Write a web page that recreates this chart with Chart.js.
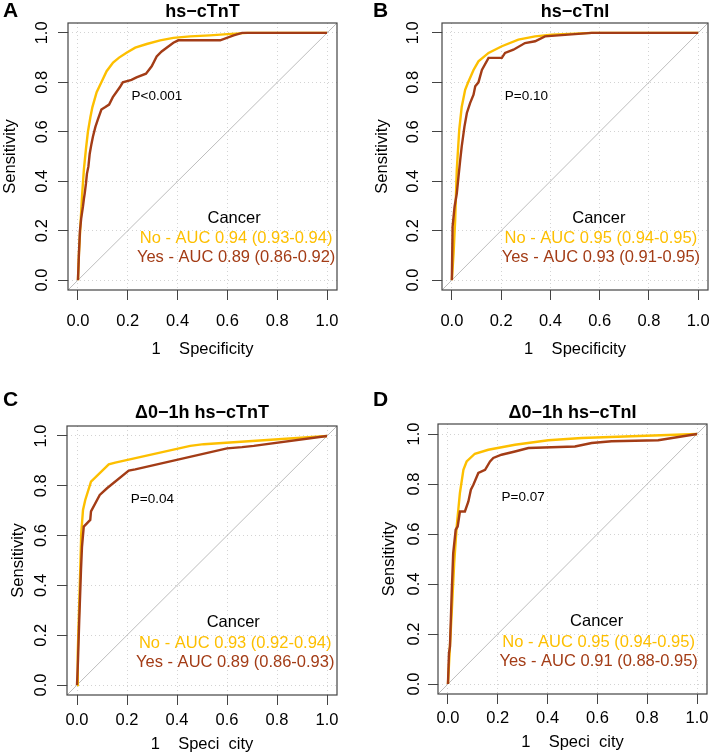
<!DOCTYPE html>
<html>
<head>
<meta charset="utf-8">
<script src="https://cdn.jsdelivr.net/npm/chart.js@4.4.0/dist/chart.umd.min.js"></script>
<style>
  html, body { margin: 0; padding: 0; background: #fff; }
  body { width: 711px; height: 755px; position: relative; overflow: hidden; }
  canvas { position: absolute; }
</style>
</head>
<body>
<canvas id="panelA" width="355" height="378" style="left:0px;top:0px;width:355px;height:378px"></canvas>
<canvas id="panelB" width="356" height="378" style="left:355px;top:0px;width:356px;height:378px"></canvas>
<canvas id="panelC" width="355" height="377" style="left:0px;top:378px;width:355px;height:377px"></canvas>
<canvas id="panelD" width="356" height="377" style="left:355px;top:378px;width:356px;height:377px"></canvas>
<script>
// Ticks shared by both axes
const tickVals = [0, 0.2, 0.4, 0.6, 0.8, 1.0];

// Panel texts
const panelLetters = ['A', 'B', 'C', 'D'];
const panelTitles = ['hs\u2212cTnT', 'hs\u2212cTnI', '\u03940\u22121h hs\u2212cTnT', '\u03940\u22121h hs\u2212cTnI'];
const pLabels = ['P<0.001', 'P=0.10', 'P=0.04', 'P=0.07'];
const noLabels = ['No - AUC 0.94 (0.93-0.94)', 'No - AUC 0.95 (0.94-0.95)', 'No - AUC 0.93 (0.92-0.94)', 'No - AUC 0.95 (0.94-0.95)'];
const yesLabels = ['Yes - AUC 0.89 (0.86-0.92)', 'Yes - AUC 0.93 (0.91-0.95)', 'Yes - AUC 0.89 (0.86-0.93)', 'Yes - AUC 0.91 (0.88-0.95)'];
const xTitles = ['1    Specificity', '1    Specificity', '1    Speci  city', '1    Speci  city'];

// A: hs-cTnT  (x = 1 - specificity, y = sensitivity)
const aNoFpr = [0, 0.004, 0.011, 0.017, 0.024, 0.032, 0.04, 0.05, 0.058, 0.075, 0.094, 0.115, 0.141, 0.165, 0.195, 0.23, 0.276, 0.33, 0.383, 0.45, 0.53, 0.6, 0.68, 1];
const aNoTpr = [0, 0.11, 0.24, 0.35, 0.45, 0.53, 0.6, 0.66, 0.70, 0.76, 0.80, 0.845, 0.88, 0.90, 0.92, 0.94, 0.955, 0.97, 0.98, 0.986, 0.99, 0.995, 1, 1];
const aYesFpr = [0, 0.004, 0.008, 0.013, 0.02, 0.024, 0.027, 0.032, 0.036, 0.042, 0.047, 0.054, 0.06, 0.07, 0.08, 0.094, 0.11, 0.125, 0.14, 0.168, 0.18, 0.215, 0.235, 0.273, 0.296, 0.316, 0.336, 0.356, 0.383, 0.403, 0.571, 0.625, 0.659, 1];
const aYesTpr = [0, 0.11, 0.2, 0.25, 0.297, 0.33, 0.35, 0.39, 0.43, 0.46, 0.51, 0.55, 0.58, 0.62, 0.65, 0.69, 0.70, 0.71, 0.74, 0.78, 0.80, 0.81, 0.82, 0.835, 0.865, 0.905, 0.925, 0.94, 0.96, 0.97, 0.97, 0.99, 1, 1];

// B: hs-cTnI
const bNoFpr = [0, 0.007, 0.0135, 0.02, 0.03, 0.04, 0.054, 0.065, 0.088, 0.108, 0.149, 0.203, 0.27, 0.338, 0.405, 0.568, 1];
const bNoTpr = [0, 0.108, 0.243, 0.446, 0.608, 0.70, 0.77, 0.797, 0.85, 0.885, 0.919, 0.946, 0.973, 0.986, 0.993, 1, 1];
const bYesFpr = [0, 0.003, 0.011, 0.02, 0.027, 0.034, 0.04, 0.051, 0.061, 0.074, 0.088, 0.095, 0.108, 0.122, 0.149, 0.203, 0.216, 0.25, 0.297, 0.338, 0.378, 0.432, 0.568, 1];
const bYesTpr = [0, 0.216, 0.297, 0.35, 0.419, 0.486, 0.54, 0.62, 0.676, 0.716, 0.75, 0.784, 0.80, 0.85, 0.899, 0.899, 0.919, 0.932, 0.959, 0.966, 0.986, 0.99, 1, 1];

// C: delta 0-1h hs-cTnT
const cNoFpr = [0, 0.003, 0.007, 0.013, 0.017, 0.024, 0.033, 0.056, 0.127, 0.153, 0.453, 0.507, 1];
const cNoTpr = [0, 0.128, 0.262, 0.463, 0.61, 0.703, 0.743, 0.817, 0.886, 0.893, 0.96, 0.967, 1];
const cYesFpr = [0, 0.004, 0.009, 0.016, 0.02, 0.027, 0.053, 0.056, 0.091, 0.12, 0.207, 0.233, 0.6, 0.66, 0.707, 1];
const cYesTpr = [0, 0.10, 0.262, 0.463, 0.556, 0.636, 0.663, 0.697, 0.763, 0.79, 0.861, 0.866, 0.95, 0.955, 0.96, 1];

// D: delta 0-1h hs-cTnI
const dNoFpr = [0, 0.008, 0.017, 0.025, 0.035, 0.048, 0.062, 0.075, 0.108, 0.162, 0.269, 0.403, 0.537, 0.738, 1];
const dNoTpr = [0, 0.15, 0.323, 0.483, 0.63, 0.764, 0.857, 0.89, 0.921, 0.937, 0.957, 0.975, 0.984, 0.991, 1];
const dYesFpr = [0, 0.004, 0.008, 0.015, 0.021, 0.031, 0.039, 0.048, 0.068, 0.082, 0.092, 0.102, 0.122, 0.149, 0.169, 0.182, 0.215, 0.269, 0.323, 0.51, 0.577, 0.657, 0.844, 1];
const dYesTpr = [0, 0.123, 0.15, 0.363, 0.523, 0.617, 0.63, 0.69, 0.69, 0.73, 0.777, 0.797, 0.844, 0.857, 0.89, 0.904, 0.917, 0.93, 0.944, 0.95, 0.964, 0.971, 0.975, 1];

const COLOR_NO = '#FDBF00';
const COLOR_YES = '#A33C16';
const FONT = '"Liberation Sans", Arial, Helvetica, sans-serif';

// Layout of each panel (canvas-relative pixels)
const panels = [
  { id: 'panelA', no: [aNoFpr, aNoTpr], yes: [aYesFpr, aYesTpr], area: { l: 68, r: 337, t: 23, b: 290 },
    letter: { x: 3, y: 11 }, titleY: 12, yTickX: 42, yTitleX: 10, xTickY: 321, xTitleY: 349, legX: 0.635 },
  { id: 'panelB', no: [bNoFpr, bNoTpr], yes: [bYesFpr, bYesTpr], area: { l: 87, r: 353, t: 23, b: 290 },
    letter: { x: 18, y: 11 }, titleY: 12, yTickX: 58, yTitleX: 27, xTickY: 321, xTitleY: 349, legX: 0.605 },
  { id: 'panelC', no: [cNoFpr, cNoTpr], yes: [cYesFpr, cYesTpr], area: { l: 67, r: 337, t: 48, b: 317 },
    letter: { x: 3, y: 22 }, titleY: 35, yTickX: 41, yTitleX: 18, xTickY: 342, xTitleY: 366, legX: 0.633 },
  { id: 'panelD', no: [dNoFpr, dNoTpr], yes: [dYesFpr, dYesTpr], area: { l: 83, r: 352, t: 46, b: 316 },
    letter: { x: 18, y: 22 }, titleY: 35, yTickX: 59, yTitleX: 34, xTickY: 340, xTitleY: 364, legX: 0.605 }
];

function puntos(xs, ys) {
  return xs.map((x, i) => ({ x: x, y: ys[i] }));
}

function escala() {
  return {
    type: 'linear',
    min: -0.04,
    max: 1.04,
    afterBuildTicks: axis => { axis.ticks = tickVals.map(v => ({ value: v })); },
    ticks: { display: false },
    grid: { color: '#d3d3d3', lineWidth: 1, tickLength: 10, tickColor: '#444', tickWidth: 1, tickBorderDash: [] },
    border: { display: false, dash: [1, 3] }
  };
}

// Draws the box, the diagonal and all text of a panel
function crearPlugin(p, i) {
  return {
    id: 'rocExtras' + i,
    beforeDatasetsDraw(chart) {
      const { ctx, chartArea } = chart;
      ctx.save();
      ctx.strokeStyle = '#bdbdbd';
      ctx.lineWidth = 1;
      ctx.beginPath();
      ctx.moveTo(chartArea.left, chartArea.bottom);
      ctx.lineTo(chartArea.right, chartArea.top);
      ctx.stroke();
      ctx.restore();
    },
    afterDraw(chart) {
      const { ctx, chartArea } = chart;
      const sx = chart.scales.x;
      const sy = chart.scales.y;
      ctx.save();
      ctx.strokeStyle = '#444';
      ctx.lineWidth = 1.2;
      ctx.strokeRect(chartArea.left, chartArea.top, chartArea.right - chartArea.left, chartArea.bottom - chartArea.top);

      ctx.fillStyle = '#000';
      ctx.textBaseline = 'middle';

      // panel letter and title
      ctx.textAlign = 'left';
      ctx.font = 'bold 21px ' + FONT;
      ctx.fillText(panelLetters[i], p.letter.x, p.letter.y);
      ctx.textAlign = 'center';
      ctx.font = 'bold 18px ' + FONT;
      ctx.fillText(panelTitles[i], (chartArea.left + chartArea.right) / 2, p.titleY);

      // tick labels
      ctx.font = '16.5px ' + FONT;
      tickVals.forEach(v => {
        ctx.fillText(v.toFixed(1), sx.getPixelForValue(v), p.xTickY);
        ctx.save();
        ctx.translate(p.yTickX, sy.getPixelForValue(v));
        ctx.rotate(-Math.PI / 2);
        ctx.fillText(v.toFixed(1), 0, 0);
        ctx.restore();
      });

      // axis titles
      ctx.fillText(xTitles[i], (chartArea.left + chartArea.right) / 2, p.xTitleY);
      ctx.save();
      ctx.translate(p.yTitleX, (chartArea.top + chartArea.bottom) / 2);
      ctx.rotate(-Math.PI / 2);
      ctx.fillText('Sensitivity', 0, 0);
      ctx.restore();

      // p value
      ctx.textAlign = 'left';
      ctx.font = '13.5px ' + FONT;
      ctx.fillText(pLabels[i], sx.getPixelForValue(0.215), sy.getPixelForValue(0.745));

      // legend
      ctx.textAlign = 'center';
      ctx.font = '16.5px ' + FONT;
      const lx = sx.getPixelForValue(p.legX);
      ctx.fillText('Cancer', lx - 2, sy.getPixelForValue(0.25));
      ctx.fillStyle = COLOR_NO;
      ctx.fillText(noLabels[i], lx, sy.getPixelForValue(0.168));
      ctx.fillStyle = COLOR_YES;
      ctx.fillText(yesLabels[i], lx, sy.getPixelForValue(0.092));
      ctx.restore();
    }
  };
}

panels.forEach((p, i) => {
  const canvas = document.getElementById(p.id);
  const W = canvas.width;
  const H = canvas.height;
  new Chart(canvas, {
    type: 'line',
    data: {
      datasets: [
        { label: 'Yes', data: puntos(p.yes[0], p.yes[1]), borderColor: COLOR_YES, borderWidth: 2.4, pointRadius: 0, tension: 0, fill: false, order: 0 },
        { label: 'No', data: puntos(p.no[0], p.no[1]), borderColor: COLOR_NO, borderWidth: 2.4, pointRadius: 0, tension: 0, fill: false, order: 1 }
      ]
    },
    options: {
      responsive: false,
      animation: false,
      devicePixelRatio: 1,
      layout: { padding: { left: p.area.l - 10, top: p.area.t, right: W - p.area.r, bottom: H - p.area.b - 10 } },
      plugins: { legend: { display: false }, tooltip: { enabled: false }, title: { display: false } },
      scales: { x: escala(), y: escala() }
    },
    plugins: [crearPlugin(p, i)]
  });
});
</script>
</body>
</html>
